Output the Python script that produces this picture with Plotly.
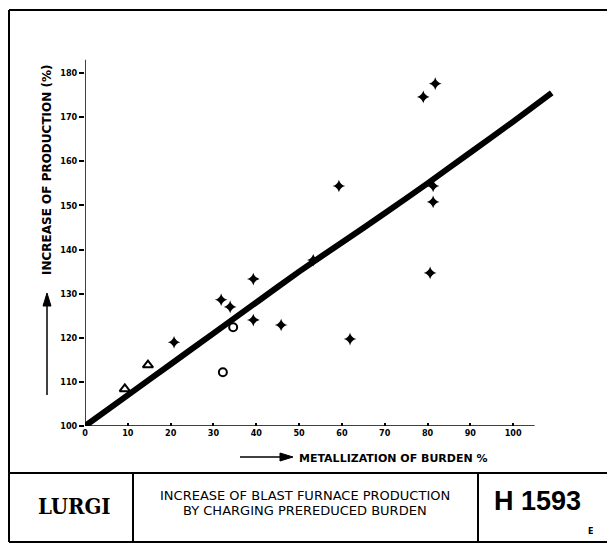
import plotly.graph_objects as go

# ---- data ----
curve_x = [0, 10, 20, 30, 40, 50, 60, 70, 80, 90, 100, 109]
curve_y = [100, 107, 114, 121, 128, 135, 141.6, 148.2, 155, 162, 169, 175.5]

cross_x = [20.8, 31.8, 33.9, 39.3, 39.3, 45.8, 53.3, 59.3, 61.9, 79.0, 80.6, 81.3, 81.3, 81.8]
cross_y = [119.0, 128.6, 127.0, 133.3, 124.0, 122.9, 137.6, 154.4, 119.7, 174.6, 134.7, 154.4, 150.8, 177.6]

tri_x = [9.3, 14.7]
tri_y = [108.4, 113.8]

circ_x = [32.2, 34.6]
circ_y = [112.2, 122.4]

x_ticks = [0, 10, 20, 30, 40, 50, 60, 70, 80, 90, 100]
y_ticks = [100, 110, 120, 130, 140, 150, 160, 170, 180]

W, H = 607, 544
L, R, T, B = 85, 51, 51, 118
PW, PH = W - L - R, H - T - B

def px(x):
    return (x - L) / PW

def py(y):
    return (H - B - y) / PH

fig = go.Figure()
fig.add_trace(go.Scatter(x=curve_x, y=curve_y, mode="lines",
                         line=dict(color="black", width=6, shape="spline", smoothing=0.5),
                         hoverinfo="skip", showlegend=False))
fig.add_trace(go.Scatter(x=cross_x, y=cross_y, mode="markers",
                         marker=dict(symbol="star-diamond", size=9, color="black",
                                     line=dict(width=0)), showlegend=False, cliponaxis=False))
fig.add_trace(go.Scatter(x=tri_x, y=tri_y, mode="markers",
                         marker=dict(symbol="triangle-up-open", size=9, color="black",
                                     line=dict(width=2, color="black")), showlegend=False))
fig.add_trace(go.Scatter(x=circ_x, y=circ_y, mode="markers",
                         marker=dict(symbol="circle-open", size=8, color="black",
                                     line=dict(width=2, color="black")), showlegend=False))

tickfont = dict(family="DejaVu Sans Condensed", size=9, color="black", weight="bold")

fig.update_xaxes(range=[0, 110], tickvals=x_ticks, ticks="inside", ticklen=3,
                 tickcolor="black", tickwidth=1.5, showline=False, showgrid=False,
                 zeroline=False, tickfont=tickfont)
fig.update_yaxes(range=[100, 185], tickvals=y_ticks, ticks="outside", ticklen=5,
                 tickcolor="black", tickwidth=1.5, showline=False, showgrid=False,
                 zeroline=False, tickfont=tickfont)

shapes = []
# axis lines
shapes.append(dict(type="line", xref="x", yref="y", x0=0, x1=105, y0=100, y1=100,
                   line=dict(color="black", width=1.5)))
shapes.append(dict(type="line", xref="x", yref="y", x0=0, x1=0, y0=100, y1=183,
                   line=dict(color="black", width=1.5)))

def pline(x0, y0, x1, y1, w=2):
    shapes.append(dict(type="line", xref="paper", yref="paper",
                       x0=px(x0), x1=px(x1), y0=py(y0), y1=py(y1),
                       line=dict(color="black", width=w)))

# frame and title block
pline(9, 10, 607, 10)
pline(9, 10, 9, 542)
pline(9, 473, 607, 473)
pline(9, 542, 607, 542)
pline(133, 473, 133, 542)
pline(478, 473, 478, 542)

# axis-title arrows
pline(240, 457, 282, 457, 1.5)
shapes.append(dict(type="path", xref="paper", yref="paper",
                   path=f"M {px(280)},{py(453)} L {px(293)},{py(457)} L {px(280)},{py(461)} Z",
                   fillcolor="black", line=dict(color="black", width=1)))
pline(47, 395, 47, 305, 1.5)
shapes.append(dict(type="path", xref="paper", yref="paper",
                   path=f"M {px(43)},{py(306)} L {px(47)},{py(293)} L {px(51)},{py(306)} Z",
                   fillcolor="black", line=dict(color="black", width=1)))

annotations = []
def ptext(x, y, text, size, anchor="center", angle=0, family="DejaVu Sans", weight="bold"):
    annotations.append(dict(xref="paper", yref="paper", x=px(x), y=py(y), text=text,
                            showarrow=False, xanchor=anchor, yanchor="middle", textangle=angle,
                            font=dict(family=family, size=size, color="black", weight=weight)))

ptext(297, 458, "METALLIZATION OF BURDEN %", 11, anchor="left")
ptext(47, 170, "INCREASE OF PRODUCTION (%)", 12, angle=-90)
ptext(74, 506, "LURGI", 22, family="DejaVu Serif Condensed", weight="bold")
ptext(305, 495, "INCREASE OF BLAST FURNACE PRODUCTION", 13, weight="normal")
ptext(305, 511, "BY CHARGING PREREDUCED BURDEN", 13, weight="normal")
ptext(537, 501, "H 1593", 27, family="Liberation Sans", weight="bold")
ptext(590, 531, "E", 8, weight="bold")

fig.update_layout(width=W, height=H, margin=dict(l=L, r=R, t=T, b=B),
                  paper_bgcolor="white", plot_bgcolor="white",
                  shapes=shapes, annotations=annotations, showlegend=False)

fig.write_html("out.html", config={"displayModeBar": False},
               post_script="document.body.style.margin='0';"
                           "document.body.style.overflow='hidden';"
                           "document.documentElement.style.overflow='hidden';")
